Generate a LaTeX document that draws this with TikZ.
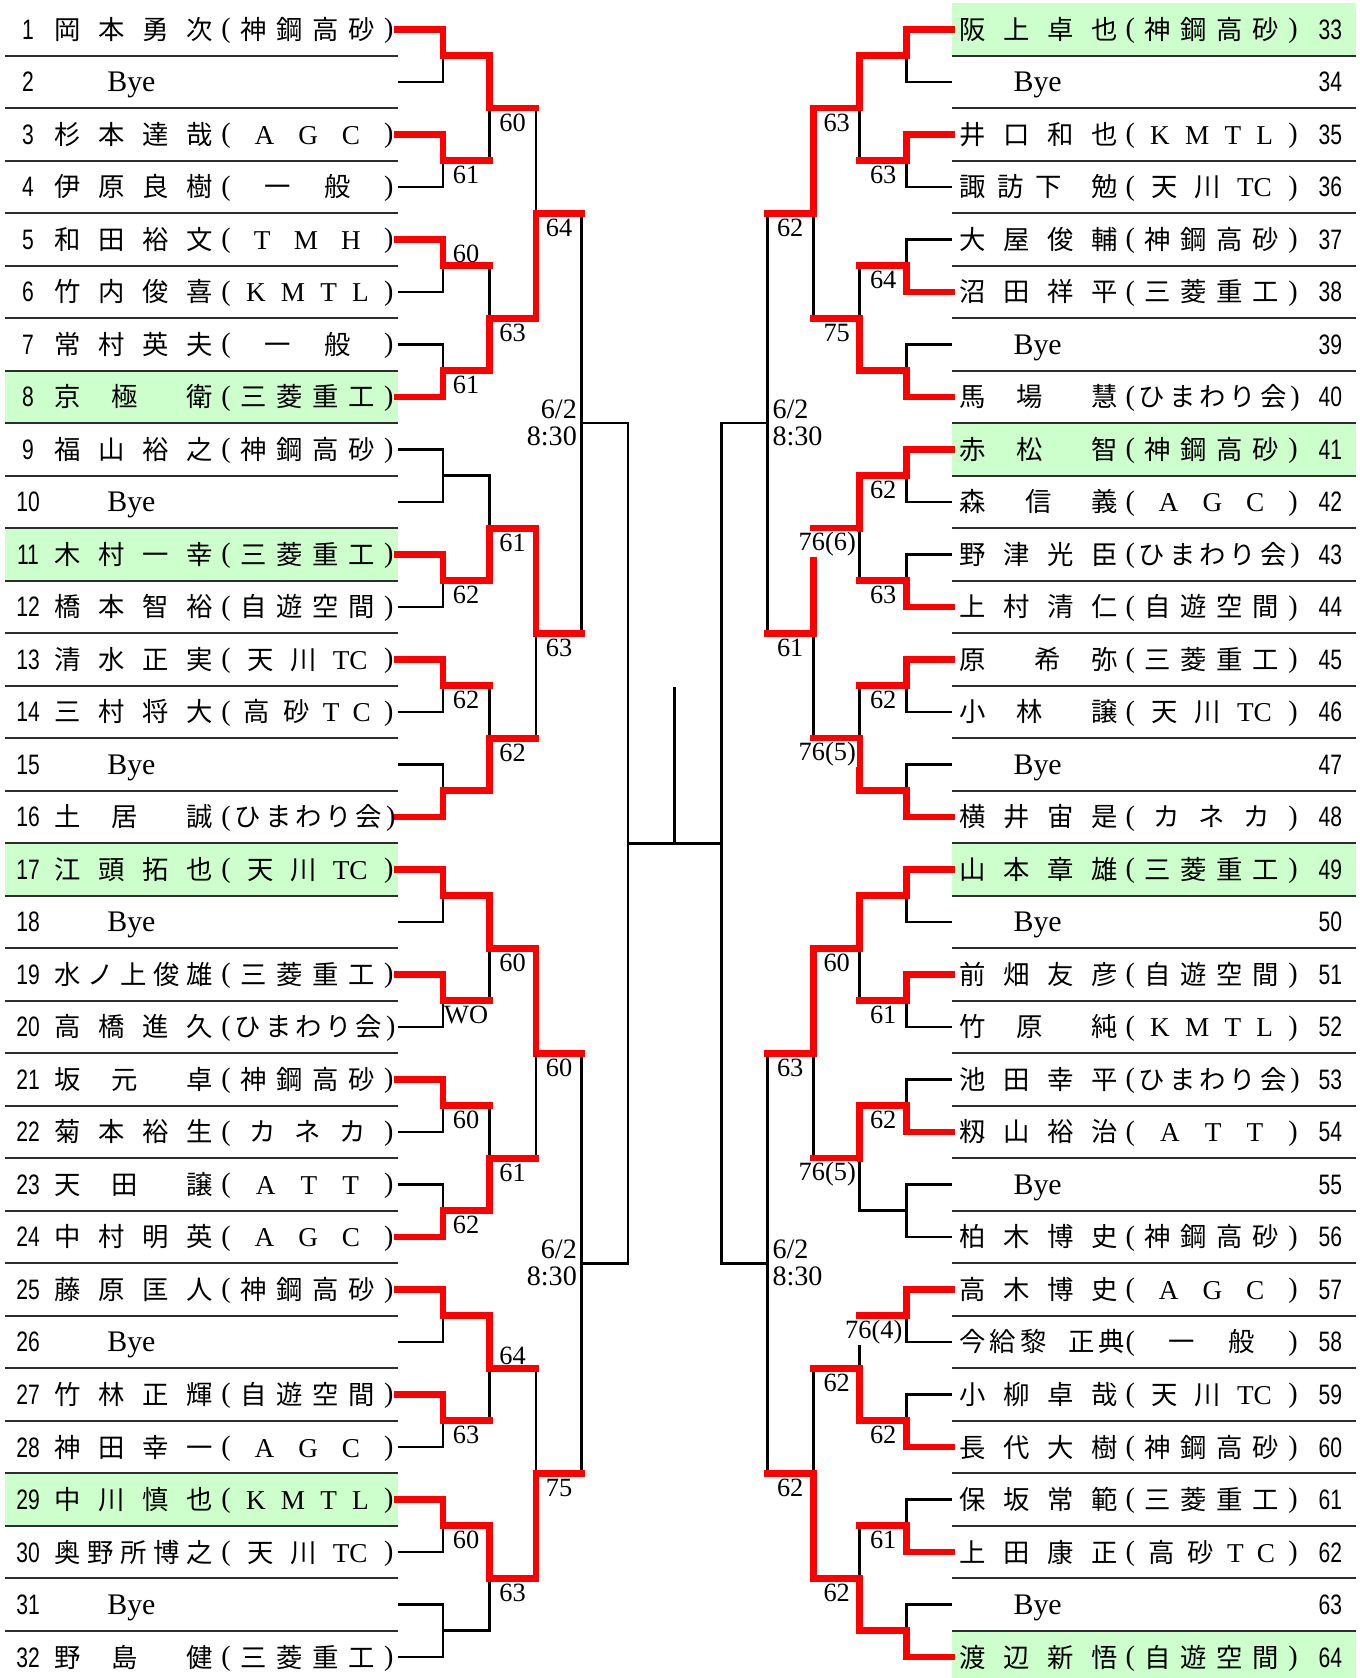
\documentclass[tikz,border=0pt]{standalone}
\usepackage{fontspec}
\setmainfont{Liberation Serif}
\newfontfamily\jpfont{Noto Sans CJK JP}
\newfontfamily\numfont{Liberation Sans}[FakeStretch=0.75]
\definecolor{winred}{RGB}{255,0,0}
\definecolor{seedgreen}{RGB}{204,255,204}
\definecolor{rulegray}{RGB}{45,45,45}

\newcommand\lat[1]{{\rmfamily\fontsize{15.5}{15.5}\selectfont #1}}
\newcommand\wgap{\kern10pt}
\newcommand\po{\raisebox{1pt}{\rmfamily\fontsize{16}{16}\selectfont(}}
\newcommand\pc{\raisebox{1pt}{\rmfamily\fontsize{16}{16}\selectfont)}}
% clubs
\newcommand\aKSG{\po{} 神 鋼 高 砂 \pc}
\newcommand\aMHI{\po{} 三 菱 重 工 \pc}
\newcommand\aJYK{\po{} 自 遊 空 間 \pc}
\newcommand\aHMW{\po{} ひ ま わ り 会 \pc}
\newcommand\aTKC{\po{} 天 川 \lat{TC} \pc}
\newcommand\aTSC{\po{} 高 砂 \lat{T} \lat{C} \pc}
\newcommand\aAGC{\po{} \lat{A} \lat{G} \lat{C} \pc}
\newcommand\aATT{\po{} \lat{A} \lat{T} \lat{T} \pc}
\newcommand\aTMH{\po{} \lat{T} \lat{M} \lat{H} \pc}
\newcommand\aKMT{\po{} \lat{K} \lat{M} \lat{T} \lat{L} \pc}
\newcommand\aKNK{\po{} カ ネ カ \pc}
\newcommand\aGEN{\po{} 一 般 \pc}

\newcommand\plL[3]{%
  \node[num] (n#1) at (28,#1) {#1};
  \node[nm] (m#1) at (54,#1) {\makebox[3.16cm][s]{#2}};
  \node[nm] (f#1) at (221,#1) {\makebox[3.44cm][s]{#3}};}
\newcommand\plR[3]{%
  \node[num] (n#1) at (1330,#1-32) {#1};
  \node[nm] (m#1) at (959,#1-32) {\makebox[3.16cm][s]{#2}};
  \node[nm] (f#1) at (1125,#1-32) {\makebox[3.44cm][s]{#3}};}
\newcommand\byeL[1]{%
  \node[num] (n#1) at (28,#1) {#1};
  \node[bye] (m#1) at (107,#1) {Bye};}
\newcommand\byeR[1]{%
  \node[num] (n#1) at (1330,#1-32) {#1};
  \node[bye] (m#1) at (1013,#1-32) {Bye};}

\tikzset{
  num/.style={font=\numfont\fontsize{16}{16}\selectfont, anchor=base, yshift=-0.2cm, inner sep=0pt},
  nm/.style={font=\jpfont\fontsize{15}{15}\selectfont, anchor=base west, yshift=-0.2cm, inner sep=0pt},
  bye/.style={font=\rmfamily\fontsize{17}{17}\selectfont, anchor=base west, yshift=-0.2cm, inner sep=0pt}}

\begin{document}
\begin{tikzpicture}[x=0.02cm, y=-1.05cm]
    \tikzset{wire/.style = {line width=1.5pt, black}}
    \tikzset{win/.style = {line width=3.8pt, winred, line cap=rect}}
    \tikzset{rowrule/.style = {line width=1pt, rulegray}}
    \tikzset{lbl/.style = {font=\rmfamily\fontsize{15}{15}\selectfont, inner sep=0.5pt}}
    \tikzset{Ls/.style = {lbl, xshift=0.46cm, yshift=-0.29cm}}
    \tikzset{Lu/.style = {lbl, xshift=0.46cm, yshift=0.24cm}}
    \tikzset{Rs/.style = {lbl, xshift=-0.46cm, yshift=-0.29cm}}
    \tikzset{Rt/.style = {Rs, xshift=-0.19cm, yshift=-0.03cm, fill=white}}
    \tikzset{when/.style = {font=\rmfamily\fontsize{16}{15.5}\selectfont, inner sep=0pt}}

    \useasboundingbox (0,0.44) rectangle (1359,32.40);

    % seeds and row rules
    \foreach \r in {8,11,17,29}
      \fill[seedgreen] (5.4,\r-0.5) rectangle (397.5,\r+0.5);
    \foreach \r in {1,9,17,32}
      \fill[seedgreen] (952,\r-0.5) rectangle (1355.5,\r+0.5);
    \foreach \r in {1,...,31}{
      \draw[rowrule] (5.4,\r+0.5) -- (397.5,\r+0.5);
      \draw[rowrule] (952,\r+0.5) -- (1355.5,\r+0.5);
    }

    % entry points (e), rounds (a,b,c,d), semis (s)
    \foreach \lv/\nm/\off in {0/e/277,1/a/231.5,2/b/185,3/c/138.5,4/d/93,5/s/46.5}{
      \pgfmathtruncatemacro\cnt{2^(6-\lv)}
      \pgfmathtruncatemacro\half{\cnt/2}
      \foreach \k in {1,...,\cnt}{
        \pgfmathtruncatemacro\side{\k>\half}
        \pgfmathsetmacro\px{674.5+(2*\side-1)*\off}
        \pgfmathsetmacro\py{2^\lv*(\k-\side*\half)-(2^\lv-1)/2}
        \coordinate (\nm\k) at (\px,\py);
      }
    }
    \coordinate (top) at (674.5,13.53);

    \foreach \nm/\pa/\lv in {e/a/0,a/b/1,b/c/2,c/d/3,d/s/4}{
      \pgfmathtruncatemacro\cnt{2^(6-\lv)}
      \foreach \k in {1,...,\cnt}{
        \pgfmathtruncatemacro\pk{(\k+1)/2}
        \draw[wire] (\nm\k) -| (\pa\pk);
      }
    }
    \draw[wire] (s1) -- (s2);
    \draw[wire] (top) -- (top |- s1);

    % winners
    \draw[win] (e1) -| (a1) -| (b1) -- (b1 -| c1);
    \draw[win] (e3) -| (a2) -- (a2 -| b1);
    \draw[win] (e5) -| (a3) -- (a3 -| b2);
    \draw[win] (e8) -| (a4) -| (b2) -| (c1) -- (c1 -| d1);
    \draw[win] (e11) -| (a6) -| (b3) -| (c2) -- (c2 -| d1);
    \draw[win] (e13) -| (a7) -- (a7 -| b4);
    \draw[win] (e16) -| (a8) -| (b4) -- (b4 -| c2);
    \draw[win] (e17) -| (a9) -| (b5) -| (c3) -- (c3 -| d2);
    \draw[win] (e19) -| (a10) -- (a10 -| b5);
    \draw[win] (e21) -| (a11) -- (a11 -| b6);
    \draw[win] (e24) -| (a12) -| (b6) -- (b6 -| c3);
    \draw[win] (e25) -| (a13) -| (b7) -- (b7 -| c4);
    \draw[win] (e27) -| (a14) -- (a14 -| b7);
    \draw[win] (e29) -| (a15) -| (b8) -| (c4) -- (c4 -| d2);
    \draw[win] (e33) -| (a17) -| (b9) -| (c5) -- (c5 -| d3);
    \draw[win] (e35) -| (a18) -- (a18 -| b9);
    \draw[win] (e38) -| (a19) -- (a19 -| b10);
    \draw[win] (e40) -| (a20) -| (b10) -- (b10 -| c5);
    \draw[win] (e41) -| (a21) -| (b11) -| (c6) -- (c6 -| d3);
    \draw[win] (e44) -| (a22) -- (a22 -| b11);
    \draw[win] (e45) -| (a23) -- (a23 -| b12);
    \draw[win] (e48) -| (a24) -| (b12) -- (b12 -| c6);
    \draw[win] (e49) -| (a25) -| (b13) -| (c7) -- (c7 -| d4);
    \draw[win] (e51) -| (a26) -- (a26 -| b13);
    \draw[win] (e54) -| (a27) -| (b14) -- (b14 -| c7);
    \draw[win] (e57) -| (a29) -- (a29 -| b15);
    \draw[win] (e60) -| (a30) -| (b15) -- (b15 -| c8);
    \draw[win] (e62) -| (a31) -- (a31 -| b16);
    \draw[win] (e64) -| (a32) -| (b16) -| (c8) -- (c8 -| d4);

    % scores, left half
    \node[Ls] (ta2) at (a2) {61};
    \node[Lu] (ta3) at (a3) {60};
    \node[Ls] (ta4) at (a4) {61};
    \node[Ls] (ta6) at (a6) {62};
    \node[Ls] (ta7) at (a7) {62};
    \node[Ls] (ta10) at (a10) {WO};
    \node[Ls] (ta11) at (a11) {60};
    \node[Ls] (ta12) at (a12) {62};
    \node[Ls] (ta14) at (a14) {63};
    \node[Ls] (ta15) at (a15) {60};
    \node[Ls] (tb1) at (b1) {60};
    \node[Ls] (tb2) at (b2) {63};
    \node[Ls] (tb3) at (b3) {61};
    \node[Ls] (tb4) at (b4) {62};
    \node[Ls] (tb5) at (b5) {60};
    \node[Ls] (tb6) at (b6) {61};
    \node[Lu] (tb7) at (b7) {64};
    \node[Ls] (tb8) at (b8) {63};
    \node[Ls] (tc1) at (c1) {64};
    \node[Ls] (tc2) at (c2) {63};
    \node[Ls] (tc3) at (c3) {60};
    \node[Ls] (tc4) at (c4) {75};
    % scores, right half
    \node[Rs] (ta18) at (a18) {63};
    \node[Rs] (ta19) at (a19) {64};
    \node[Rs] (ta21) at (a21) {62};
    \node[Rs] (ta22) at (a22) {63};
    \node[Rs] (ta23) at (a23) {62};
    \node[Rs] (ta26) at (a26) {61};
    \node[Rs] (ta27) at (a27) {62};
    \node[Rt] (ta29) at (a29) {76(4)};
    \node[Rs] (ta30) at (a30) {62};
    \node[Rs] (ta31) at (a31) {61};
    \node[Rs] (tb9) at (b9) {63};
    \node[Rs] (tb10) at (b10) {75};
    \node[Rt] (tb11) at (b11) {76(6)};
    \node[Rt] (tb12) at (b12) {76(5)};
    \node[Rs] (tb13) at (b13) {60};
    \node[Rt] (tb14) at (b14) {76(5)};
    \node[Rs] (tb15) at (b15) {62};
    \node[Rs] (tb16) at (b16) {62};
    \node[Rs] (tc5) at (c5) {62};
    \node[Rs] (tc6) at (c6) {61};
    \node[Rs] (tc7) at (c7) {63};
    \node[Rs] (tc8) at (c8) {62};
    % quarter final times
    \node[when, anchor=east, align=right, xshift=-0.09cm] (td1) at (d1) {6/2\\8:30};
    \node[when, anchor=east, align=right, xshift=-0.09cm] (td2) at (d2) {6/2\\8:30};
    \node[when, anchor=west, align=left, xshift=0.09cm] (td3) at (d3) {6/2\\8:30};
    \node[when, anchor=west, align=left, xshift=0.09cm] (td4) at (d4) {6/2\\8:30};

    % players
    \plL{1}{岡 本 勇 次}{\aKSG}
    \byeL{2}
    \plL{3}{杉 本 達 哉}{\aAGC}
    \plL{4}{伊 原 良 樹}{\aGEN}
    \plL{5}{和 田 裕 文}{\aTMH}
    \plL{6}{竹 内 俊 喜}{\aKMT}
    \plL{7}{常 村 英 夫}{\aGEN}
    \plL{8}{京 極 \wgap 衛}{\aMHI}
    \plL{9}{福 山 裕 之}{\aKSG}
    \byeL{10}
    \plL{11}{木 村 一 幸}{\aMHI}
    \plL{12}{橋 本 智 裕}{\aJYK}
    \plL{13}{清 水 正 実}{\aTKC}
    \plL{14}{三 村 将 大}{\aTSC}
    \byeL{15}
    \plL{16}{土 居 \wgap 誠}{\aHMW}
    \plL{17}{江 頭 拓 也}{\aTKC}
    \byeL{18}
    \plL{19}{水 ノ 上 俊 雄}{\aMHI}
    \plL{20}{高 橋 進 久}{\aHMW}
    \plL{21}{坂 元 \wgap 卓}{\aKSG}
    \plL{22}{菊 本 裕 生}{\aKNK}
    \plL{23}{天 田 \wgap 譲}{\aATT}
    \plL{24}{中 村 明 英}{\aAGC}
    \plL{25}{藤 原 匡 人}{\aKSG}
    \byeL{26}
    \plL{27}{竹 林 正 輝}{\aJYK}
    \plL{28}{神 田 幸 一}{\aAGC}
    \plL{29}{中 川 慎 也}{\aKMT}
    \plL{30}{奥 野 所 博 之}{\aTKC}
    \byeL{31}
    \plL{32}{野 島 \wgap 健}{\aMHI}

    \plR{33}{阪 上 卓 也}{\aKSG}
    \byeR{34}
    \plR{35}{井 口 和 也}{\aKMT}
    \plR{36}{諏 訪 下 \wgap 勉}{\aTKC}
    \plR{37}{大 屋 俊 輔}{\aKSG}
    \plR{38}{沼 田 祥 平}{\aMHI}
    \byeR{39}
    \plR{40}{馬 場 \wgap 慧}{\aHMW}
    \plR{41}{赤 松 \wgap 智}{\aKSG}
    \plR{42}{森 信 義}{\aAGC}
    \plR{43}{野 津 光 臣}{\aHMW}
    \plR{44}{上 村 清 仁}{\aJYK}
    \plR{45}{原 \wgap 希 弥}{\aMHI}
    \plR{46}{小 林 \wgap 譲}{\aTKC}
    \byeR{47}
    \plR{48}{横 井 宙 是}{\aKNK}
    \plR{49}{山 本 章 雄}{\aMHI}
    \byeR{50}
    \plR{51}{前 畑 友 彦}{\aJYK}
    \plR{52}{竹 原 \wgap 純}{\aKMT}
    \plR{53}{池 田 幸 平}{\aHMW}
    \plR{54}{籾 山 裕 治}{\aATT}
    \byeR{55}
    \plR{56}{柏 木 博 史}{\aKSG}
    \plR{57}{高 木 博 史}{\aAGC}
    \plR{58}{今 給 黎 \wgap 正 典}{\aGEN}
    \plR{59}{小 柳 卓 哉}{\aTKC}
    \plR{60}{長 代 大 樹}{\aKSG}
    \plR{61}{保 坂 常 範}{\aMHI}
    \plR{62}{上 田 康 正}{\aTSC}
    \byeR{63}
    \plR{64}{渡 辺 新 悟}{\aJYK}
\end{tikzpicture}
\end{document}
